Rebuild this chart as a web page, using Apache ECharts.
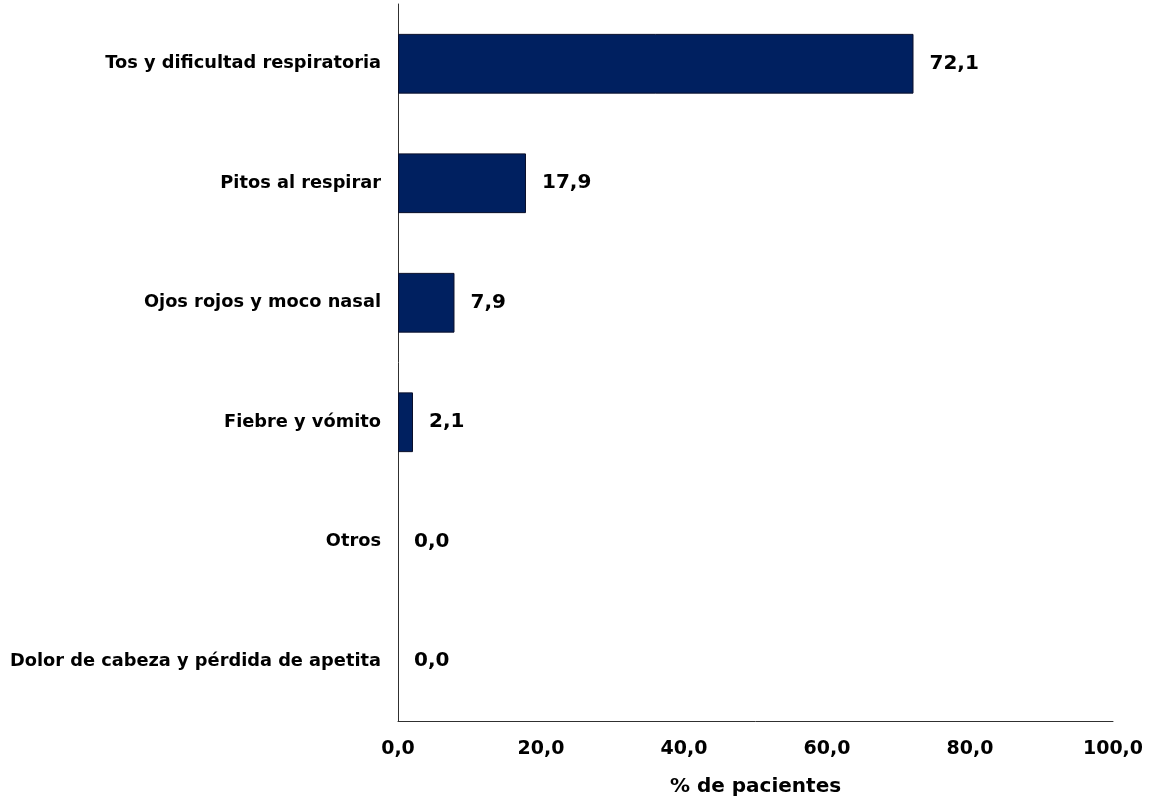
<!DOCTYPE html>
<html><head><meta charset="utf-8">
<script src="https://cdn.jsdelivr.net/npm/echarts@6/dist/echarts.min.js"></script>
<style>html,body{margin:0;padding:0;background:#fff}#c{width:1153px;height:803px}</style>
</head><body><div id="c"></div>
<script>
const categories = ["Tos y dificultad respiratoria","Pitos al respirar","Ojos rojos y moco nasal","Fiebre y vómito","Otros","Dolor de cabeza y pérdida de apetita"];
const values = [72.1, 17.9, 7.9, 2.1, 0.0, 0.0];
const xTicks = [0, 20, 40, 60, 80, 100];
const fmt = v => v.toFixed(1).replace('.', ',');
const FONT = 'DejaVu Sans, Liberation Sans, Arial, sans-serif';
const chart = echarts.init(document.getElementById('c'));
chart.setOption({
  animation: false,
  textStyle: {fontFamily: FONT},
  grid: {left: 398, right: 40, top: 4, bottom: 82},
  xAxis: {
    type: 'value', min: xTicks[0], max: xTicks[xTicks.length-1], interval: 20,
    name: '% de pacientes', nameLocation: 'middle', nameGap: 56,
    nameTextStyle: {fontSize: 20, fontWeight: 'bold', color: '#000', fontFamily: FONT},
    axisLine: {show: true, lineStyle: {color: '#303030', width: 1}},
    axisTick: {show: false}, splitLine: {show: false},
    axisLabel: {fontSize: 19, fontWeight: 'bold', color: '#000', margin: 19, fontFamily: FONT, formatter: v => fmt(v)}
  },
  yAxis: {
    type: 'category', data: categories, inverse: true,
    axisLine: {show: true, lineStyle: {color: '#303030', width: 1}},
    axisTick: {show: false},
    axisLabel: {fontSize: 17.8, fontWeight: 'bold', color: '#000', margin: 17, fontFamily: FONT}
  },
  series: [{
    type: 'bar', barWidth: '50%',
    data: values.map(v => ({value: v, itemStyle: {borderWidth: v > 0 ? 1 : 0}})),
    itemStyle: {color: '#002060', borderColor: '#0a0f2a'},
    label: {show: true, position: 'right', distance: 16, fontSize: 20, fontWeight: 'bold', color: '#000', fontFamily: FONT, formatter: p => fmt(p.value)}
  }]
});
</script></body></html>
